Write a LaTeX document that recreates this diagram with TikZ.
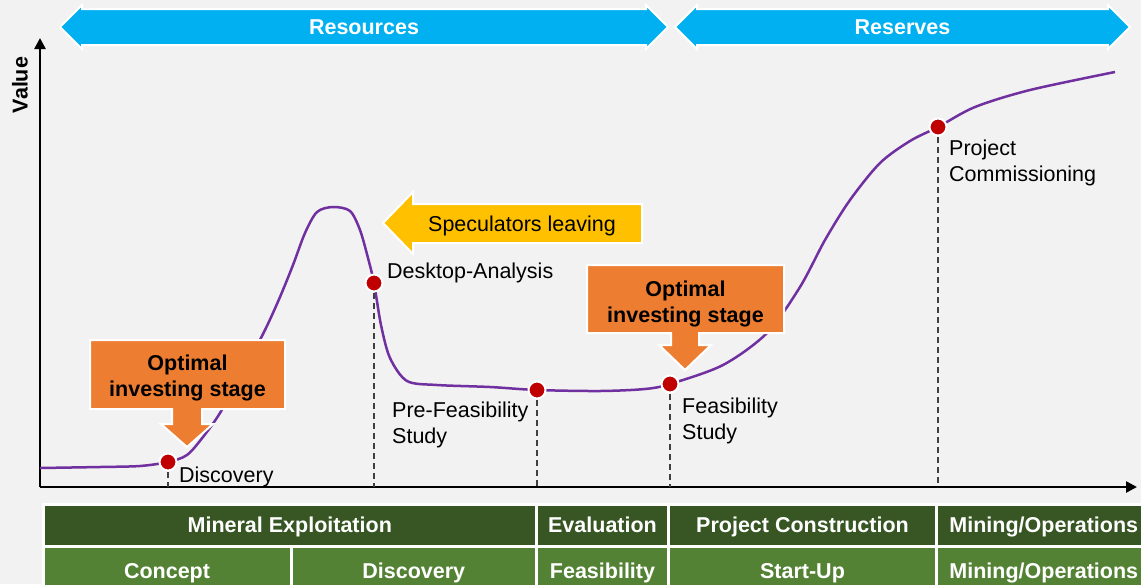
\documentclass[tikz,border=0pt]{standalone}
\usepackage{fontspec}
\setmainfont{Liberation Sans}
\usetikzlibrary{arrows.meta,shapes.arrows,positioning}

\definecolor{bgGray}{HTML}{F2F2F2}
\definecolor{bannerBlue}{HTML}{00B0F0}
\definecolor{curvePurple}{HTML}{7030A0}
\definecolor{dotRed}{HTML}{C00000}
\definecolor{calloutOrange}{HTML}{ED7D31}
\definecolor{specYellow}{HTML}{FFC000}
\definecolor{darkGreen}{HTML}{375623}
\definecolor{lightGreen}{HTML}{548235}
\definecolor{dashGray}{HTML}{404040}

\newcommand{\labelfont}{\fontsize{21.5}{26}\selectfont}

\tikzset{
  axisline/.style={line width=2.5pt, -{Triangle[length=11pt,width=11pt]}},
  valuecurve/.style={draw=curvePurple, line width=2.5pt},
  stageline/.style={draw=dashGray, line width=1.5pt, dash pattern=on 6pt off 4pt},
  milestone/.style={circle, fill=dotRed, draw=white, line width=2pt, minimum size=17pt, inner sep=0pt},
  stagelabel/.style={anchor=north west, align=left, inner sep=0pt, font=\labelfont},
  banner/.style={double arrow, double arrow head extend=4pt, fill=bannerBlue, draw=white, line width=2pt,
    text=white, font=\bfseries\labelfont, text height=17pt, text depth=2pt, inner ysep=7.5pt},
  callout/.style={fill=calloutOrange, draw=white, line width=2pt},
  callouttext/.style={align=center, font=\bfseries\labelfont},
  specarrow/.style={fill=specYellow, draw=white, line width=2pt},
  toprow/.style={fill=darkGreen, draw=white, line width=3pt, text=white, font=\bfseries\labelfont,
    text height=17pt, text depth=2pt, inner sep=0pt, minimum height=42.5pt},
  bottomrow/.style={toprow, fill=lightGreen, minimum height=49.5pt},
}

\begin{document}
\begin{tikzpicture}[x=1pt, y=-1pt]
  \useasboundingbox (0,0) rectangle (1141,584);
  \clip (0,0) rectangle (1141,584);
  \fill[bgGray] (0,0) rectangle (1141,584);

  % banners
  \node[banner, minimum height=608pt] (resources) at (364,27) {Resources};
  \node[banner, minimum height=455pt] (reserves) at (902.5,27) {Reserves};

  % axes
  \coordinate (org) at (40,487);
  \coordinate (ytop) at (40,38);
  \coordinate (xend) at (1137,487);
  \draw[axisline] (org) -- (ytop);
  \draw[axisline] (org) -- (xend);
  \node[rotate=90, font=\bfseries\labelfont] (value) at (20,85) {Value};

  % milestones on the curve
  \coordinate (discovery) at (168,462);
  \coordinate (desktop) at (374,283);
  \coordinate (prefeas) at (537,390);
  \coordinate (feas) at (670,384);
  \coordinate (commission) at (938,127);

  \draw[valuecurve] plot[smooth, tension=0.5] coordinates {
    (40,468) (100,467) (140,466) (discovery) (187,455) (203,437) (220,413)
    (243,372) (265,330) (280,297) (293,265) (305,233) (317,212) (333,207)
    (350,211) (360,230) (368,258) (desktop) (381,325) (390,358) (407,381)
    (437,385) (490,387) (prefeas) (600,391) (645,389) (feas) (723,365)
    (767,333) (800,287) (825,240) (850,200) (880,163) (910,141) (commission)
    (975,107) (1030,90) (1115,72)};

  \draw[stageline] (discovery) -- (discovery |- org);
  \draw[stageline] (desktop) -- (desktop |- org);
  \draw[stageline] (prefeas) -- (prefeas |- org);
  \draw[stageline] (feas) -- (feas |- org);
  \draw[stageline] (commission) -- (commission |- org);

  \node[milestone] (d1) at (discovery) {};
  \node[milestone] (d2) at (desktop) {};
  \node[milestone] (d3) at (prefeas) {};
  \node[milestone] (d4) at (feas) {};
  \node[milestone] (d5) at (commission) {};

  \node[stagelabel] (discoverytxt) at (179,467) {Discovery};
  \node[stagelabel] (desktoptxt) at (387,263) {Desktop-Analysis};
  \node[stagelabel] (prefeastxt) at (392,402) {Pre-Feasibility\\Study};
  \node[stagelabel] (feastxt) at (682,398) {Feasibility\\Study};
  \node[stagelabel] (commissiontxt) at (949,140) {Project\\Commissioning};

  % callouts
  \draw[callout] (90,340) -- (285,340) -- (285,409) -- (202,409) -- (202,424) -- (213,424)
    -- (187,447) -- (161,424) -- (172,424) -- (172,409) -- (90,409) -- cycle;
  \node[callouttext] (invest1) at (187.5,377.5) {Optimal\\investing stage};

  \draw[callout] (587,265) -- (784,265) -- (784,333) -- (699,333) -- (699,345) -- (711,345)
    -- (685,370) -- (659,345) -- (671,345) -- (671,333) -- (587,333) -- cycle;
  \node[callouttext] (invest2) at (685.5,303.5) {Optimal\\investing stage};

  \draw[specarrow] (383,223) -- (413,192) -- (413,204) -- (642,204) -- (642,243)
    -- (413,243) -- (413,254) -- cycle;
  \node[font=\labelfont] (specs) at (522,225.5) {Speculators leaving};

  % stage table
  \node[toprow, minimum width=493.5pt] (exploit) at (289.75,525.25) {Mineral Exploitation};
  \node[toprow, minimum width=132pt] (evaluation) at (602.5,525.25) {Evaluation};
  \node[toprow, minimum width=268pt] (construction) at (802.5,525.25) {Project Construction};
  \node[toprow, minimum width=214.5pt] (mining) at (1043.75,525.25) {Mining/Operations};

  \node[bottomrow, minimum width=248pt] (concept) at (167,571.25) {Concept};
  \node[bottomrow, minimum width=245.5pt] (discoverycell) at (413.75,571.25) {Discovery};
  \node[bottomrow, minimum width=132pt] (feasibility) at (602.5,571.25) {Feasibility};
  \node[bottomrow, minimum width=268pt] (startup) at (802.5,571.25) {Start-Up};
  \node[bottomrow, minimum width=214.5pt] (operations) at (1043.75,571.25) {Mining/Operations};
\end{tikzpicture}
\end{document}
